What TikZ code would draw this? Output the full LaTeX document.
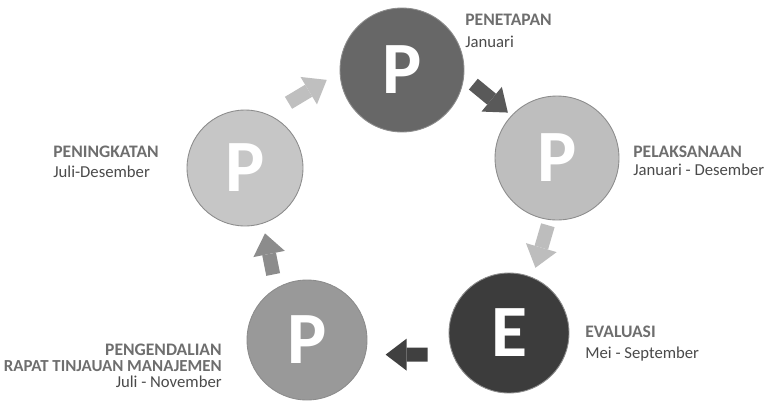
\documentclass[tikz,border=0pt]{standalone}
\usepackage{fontspec}
\setmainfont{Carlito}
\usetikzlibrary{arrows.meta}
\definecolor{cTetap}{HTML}{676767}
\definecolor{cLaksana}{HTML}{BEBEBE}
\definecolor{cEval}{HTML}{3C3C3C}
\definecolor{cKendali}{HTML}{999999}
\definecolor{cTingkat}{HTML}{C6C6C6}
\definecolor{cHead}{HTML}{6E6E6E}
\definecolor{cSub}{HTML}{4A4A4A}
\tikzset{
  phase/.style={circle,inner sep=0pt,minimum size=#1,draw=black!45,line width=0.5pt,
    text=white,font=\fontsize{42}{42}\selectfont\bfseries},
  flow/.style={line width=0.28cm,color=#1,
    -{Triangle[width=0.64cm,length=0.42cm,line width=0pt]}},
  head/.style={inner sep=0pt,text=cHead,font=\fontsize{10}{12}\selectfont\bfseries},
  sub/.style={inner sep=0pt,text=cSub,font=\fontsize{9.5}{12}\selectfont}
}

\begin{document}
\begin{tikzpicture}[x=0.02cm,y=-0.02cm]
	\useasboundingbox (0,0) rectangle (766,403);
	% phases
	\node (tetap) at (402,70) [phase=2.48cm,fill=cTetap] {P};
	\node (laksana) at (557,158) [phase=2.48cm,fill=cLaksana] {P};
	\node (eval) at (509,333) [phase=2.4cm,fill=cEval] {E};
	\node (kendali) at (307,340) [phase=2.4cm,fill=cKendali] {P};
	\node (tingkat) at (245,168) [phase=2.32cm,fill=cTingkat] {P};
	% arrows
	\draw [flow=black!25,shorten <=0.46cm,shorten >=0.3cm] (tingkat.66) -- (tetap.182);
	\draw [flow=black!65,shorten <=0.24cm,shorten >=0.09cm] (tetap.-6) -- (laksana.137);
	\draw [flow=black!26,shorten <=0.11cm,shorten >=0.2cm] (laksana.263) -- (eval.67.5);
	\draw [flow=black!75,shorten <=0.5cm,shorten >=0.4cm] (eval.201) -- (kendali.-14.5);
	\draw [flow=black!45,shorten <=0.28cm,shorten >=0.2cm] (kendali.121.5) -- (tingkat.288);
	% labels
	\node (tetapH) at (465,25) [anchor=base west,head] {PENETAPAN};
	\node (tetapS) at (465,47) [anchor=base west,sub] {Januari};
	\node (laksanaH) at (633,157) [anchor=base west,head] {PELAKSANAAN};
	\node (laksanaS) at (633,175) [anchor=base west,sub] {Januari - Desember};
	\node (evalH) at (585,337) [anchor=base west,head] {EVALUASI};
	\node (evalS) at (585,358) [anchor=base west,sub] {Mei - September};
	\node (kendaliH) at (222,355) [anchor=base east,head] {PENGENDALIAN};
	\node (kendaliR) at (222,371) [anchor=base east,head,font=\fontsize{9.6}{11}\selectfont\bfseries] {RAPAT TINJAUAN MANAJEMEN};
	\node (kendaliS) at (222,387) [anchor=base east,sub] {Juli - November};
	\node (tingkatH) at (53,157) [anchor=base west,head] {PENINGKATAN};
	\node (tingkatS) at (53,177) [anchor=base west,sub] {Juli-Desember};
\end{tikzpicture}
\end{document}
